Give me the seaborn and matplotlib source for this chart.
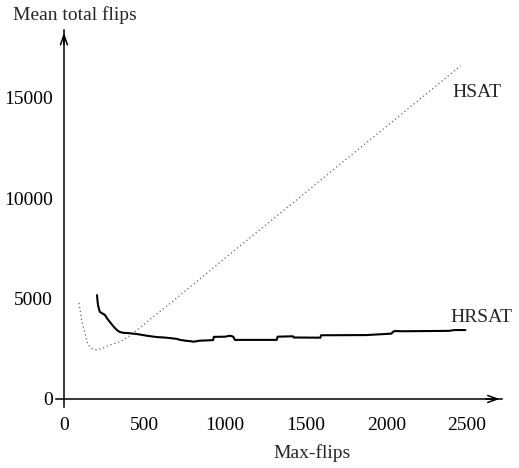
import matplotlib
matplotlib.use("Agg")
import matplotlib.pyplot as plt
import seaborn as sns
import pandas as pd

# HSAT (dotted) - mean total flips vs max-flips
hsat_maxflips = [93, 110, 130, 149, 175, 205, 245, 285, 347, 400, 453, 552, 658, 763,
                 1068, 1460, 1712, 2000, 2250, 2460]
hsat_flips = [4780, 3900, 3280, 2690, 2500, 2440, 2550, 2690, 2840, 3100, 3430, 4080, 4750, 5450,
              7460, 10020, 11680, 13560, 15200, 16580]

hrsat_maxflips = [205, 208, 211, 218, 223, 240, 254, 270, 285, 300, 316, 330, 347, 370, 397,
                  453, 520, 577, 620, 658, 700, 720, 763, 790, 800, 820, 840, 900,
                  925, 930, 1000, 1030, 1050, 1060, 1100, 1200, 1320, 1325, 1420, 1425,
                  1590, 1595, 1870, 1875, 2030, 2040, 2050, 2100, 2390, 2420, 2490]
hrsat_flips = [5170, 4900, 4680, 4450, 4330, 4250, 4180, 3980, 3830, 3680, 3530, 3420, 3330, 3290, 3280,
               3230, 3140, 3080, 3060, 3030, 2990, 2940, 2890, 2870, 2850, 2870, 2900, 2920,
               2930, 3090, 3100, 3150, 3100, 2940, 2940, 2940, 2940, 3100, 3120, 3060,
               3050, 3170, 3180, 3180, 3250, 3330, 3380, 3370, 3390, 3430, 3430]

x_ticks = [0, 500, 1000, 1500, 2000, 2500]
y_ticks = [0, 5000, 10000, 15000]

sns.set_style("white")
plt.rcParams['font.family'] = ['Liberation Serif', 'DejaVu Serif']
fs = 14

fig = plt.figure(figsize=(5.19, 4.68), dpi=100)
ax = fig.add_axes([0.1077, 0.1303, 0.8605, 0.8056])

hsat = pd.DataFrame({"x": hsat_maxflips, "y": hsat_flips})
hrsat = pd.DataFrame({"x": hrsat_maxflips, "y": hrsat_flips})
sns.lineplot(data=hsat, x="x", y="y", ax=ax, color="0.4", lw=0.9,
             linestyle=(0, (1, 2.2)), estimator=None, sort=False)
sns.lineplot(data=hrsat, x="x", y="y", ax=ax, color="black", lw=1.5,
             estimator=None, sort=False)

ax.set_xlim(-50, 2720)
ax.set_ylim(-400, 18360)

for s in ["top", "right"]:
    ax.spines[s].set_visible(False)
ax.spines["left"].set_position(("data", 0))
ax.spines["bottom"].set_position(("data", 0))
for s in ["left", "bottom"]:
    ax.spines[s].set_linewidth(1.1)
    ax.spines[s].set_color("black")

ax.set_xticks(x_ticks)
ax.set_yticks(y_ticks)
ax.tick_params(axis="x", direction="out", length=5, width=1, pad=8, labelsize=fs, colors="black")
ax.tick_params(axis="y", direction="out", length=5, width=1, pad=3, labelsize=fs, colors="black")
ax.set_xlabel("")
ax.set_ylabel("")

# arrow heads at the axis ends
ax.annotate("", xy=(2720, 0), xytext=(2600, 0),
            arrowprops=dict(arrowstyle="->,head_length=0.7,head_width=0.25", lw=1.1, color="black"))
ax.annotate("", xy=(0, 18360), xytext=(0, 17500),
            arrowprops=dict(arrowstyle="->,head_length=0.7,head_width=0.25", lw=1.1, color="black"))

ax.text(2407, 15270, "HSAT", ha="left", va="center", fontsize=fs)
ax.text(2395, 4030, "HRSAT", ha="left", va="center", fontsize=fs)

fig.text(13 / 519, 1 - 15 / 468, "Mean total flips", ha="left", va="center", fontsize=fs)
fig.text(312 / 519, 1 - 453 / 468, "Max-flips", ha="center", va="center", fontsize=fs)

fig.savefig("out.png", dpi=100)
